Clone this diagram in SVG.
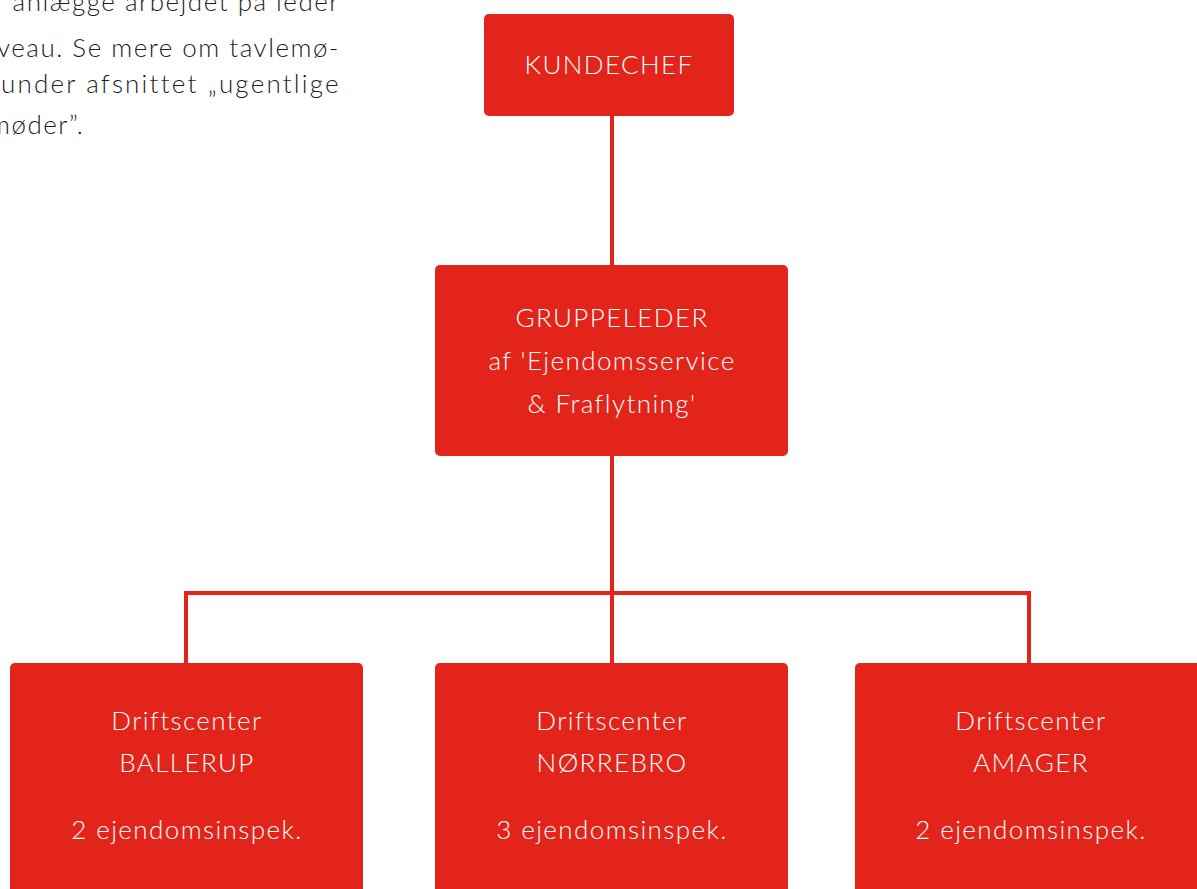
<svg xmlns="http://www.w3.org/2000/svg" width="1197" height="889" viewBox="0 0 1197 889">
<style>
.box{fill:#E3241A;}
.lbl{font-family:Lato,"Open Sans",sans-serif;font-weight:300;font-size:26px;letter-spacing:1.4px;fill:#ffffff;text-anchor:middle;}
.body{font-family:Lato,"Open Sans",sans-serif;font-weight:300;font-size:26px;letter-spacing:1.5px;fill:#1e1e1e;}
.conn{stroke:#E3241A;stroke-width:4;fill:none;}
</style>
<rect width="1197" height="889" fill="#ffffff"/>
<g id="note">
<text class="body" x="340" y="11" text-anchor="end">anlægge arbejdet på leder</text>
<text class="body" x="340" y="57" text-anchor="end">niveau. Se mere om tavlemø-</text>
<text class="body" x="1" y="93" textLength="339" lengthAdjust="spacing">under afsnittet „ugentlige</text>
<text class="body" x="-11" y="134">møder”.</text>
</g>
<g id="connectors">
<line class="conn" x1="612" y1="116" x2="612" y2="266"/>
<line class="conn" x1="612" y1="456" x2="612" y2="664"/>
<polyline class="conn" points="186,664 186,593 1029,593 1029,664"/>
</g>
<g id="kundechef">
<rect class="box" x="484" y="14" width="250" height="102" rx="5"/>
<text class="lbl" x="609" y="74">KUNDECHEF</text>
</g>
<g id="gruppeleder">
<rect class="box" x="435" y="265" width="353" height="191" rx="5"/>
<text class="lbl" x="612" y="327">GRUPPELEDER</text>
<text class="lbl" x="612" y="370">af 'Ejendomsservice</text>
<text class="lbl" x="612" y="413">&amp; Fraflytning'</text>
</g>
<g id="ballerup">
<rect class="box" x="10" y="663" width="353" height="240" rx="5"/>
<text class="lbl" x="187" y="730">Driftscenter</text>
<text class="lbl" x="187" y="772">BALLERUP</text>
<text class="lbl" x="187" y="839">2 ejendomsinspek.</text>
</g>
<g id="norrebro">
<rect class="box" x="435" y="663" width="353" height="240" rx="5"/>
<text class="lbl" x="612" y="730">Driftscenter</text>
<text class="lbl" x="612" y="772">NØRREBRO</text>
<text class="lbl" x="612" y="839">3 ejendomsinspek.</text>
</g>
<g id="amager">
<rect class="box" x="855" y="663" width="353" height="240" rx="5"/>
<text class="lbl" x="1031" y="730">Driftscenter</text>
<text class="lbl" x="1031" y="772">AMAGER</text>
<text class="lbl" x="1031" y="839">2 ejendomsinspek.</text>
</g>
</svg>
